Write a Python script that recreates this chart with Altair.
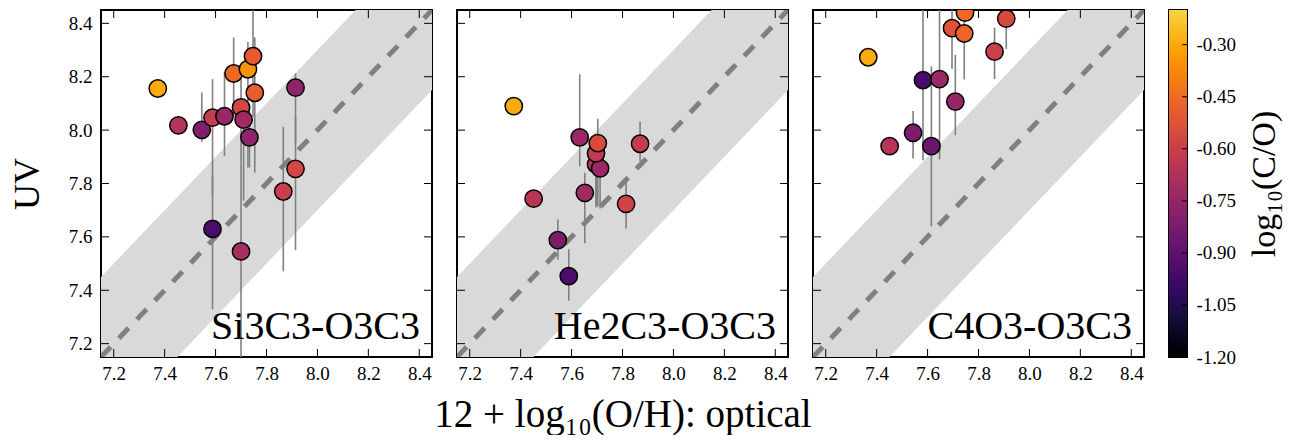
import altair as alt
import pandas as pd
import numpy as np

FONT = "Liberation Serif"

# ---------------- data ----------------
TICKS = [7.2, 7.4, 7.6, 7.8, 8.0, 8.2, 8.4]
CB_TICKS = [-1.20, -1.05, -0.90, -0.75, -0.60, -0.45, -0.30]

# Panel 1: Si3C3-O3C3
si_x = [7.373, 7.454, 7.546, 7.588, 7.635, 7.671, 7.727, 7.747, 7.754, 7.700, 7.710, 7.733, 7.914, 7.914, 7.866, 7.588, 7.700]
si_y = [8.156, 8.018, 8.001, 8.047, 8.052, 8.212, 8.228, 8.277, 8.140, 8.085, 8.039, 7.973, 8.159, 7.855, 7.770, 7.630, 7.546]
si_lo = [8.156, 8.018, 7.956, 7.750, 7.903, 8.050, 7.860, 8.050, 7.841, 7.900, 7.736, 7.860, 7.950, 7.551, 7.471, 7.329, 7.100]
si_hi = [8.156, 8.018, 8.141, 8.191, 8.218, 8.347, 8.330, 8.500, 8.347, 8.200, 8.090, 8.094, 8.212, 8.050, 8.012, 7.830, 7.900]
si_co = [-0.30, -0.66, -0.81, -0.62, -0.745, -0.46, -0.35, -0.50, -0.49, -0.57, -0.72, -0.77, -0.77, -0.57, -0.60, -0.955, -0.70]

# Panel 2: He2C3-O3C3
he_x = [7.373, 7.451, 7.546, 7.589, 7.632, 7.652, 7.696, 7.712, 7.696, 7.703, 7.814, 7.869]
he_y = [8.090, 7.743, 7.588, 7.453, 7.973, 7.765, 7.872, 7.857, 7.913, 7.951, 7.724, 7.949]
he_lo = [8.090, 7.743, 7.514, 7.361, 7.865, 7.576, 7.720, 7.706, 7.710, 7.713, 7.631, 7.883]
he_hi = [8.090, 7.743, 7.665, 7.554, 8.209, 7.840, 7.930, 7.900, 7.960, 8.043, 7.824, 8.031]
he_co = [-0.30, -0.65, -0.82, -0.95, -0.74, -0.72, -0.66, -0.74, -0.63, -0.55, -0.58, -0.62]

# Panel 3: C4O3-O3C3
c4_x = [7.367, 7.451, 7.543, 7.582, 7.615, 7.647, 7.709, 7.696, 7.744, 7.747, 7.863, 7.909]
c4_y = [8.273, 7.940, 7.990, 8.187, 7.940, 8.191, 8.107, 8.382, 8.362, 8.440, 8.294, 8.418]
c4_lo = [8.273, 7.940, 7.894, 7.887, 7.640, 7.890, 7.981, 8.230, 8.190, 8.440, 8.191, 8.304]
c4_hi = [8.273, 7.940, 8.072, 8.500, 8.239, 8.500, 8.282, 8.500, 8.500, 8.500, 8.384, 8.500]
c4_co = [-0.30, -0.66, -0.82, -0.96, -0.87, -0.74, -0.75, -0.53, -0.47, -0.46, -0.60, -0.56]

# one-to-one line and its +/- band
line_x = [7.15, 8.45]
band_half = 0.3

# --------------------------------------------------------------
W, H = 331, 347
XD = [7.15, 8.45]
YD = [7.15, 8.45]
TL = 8  # inward tick length

color_scale = alt.Scale(domain=[-1.2, -0.2],
                        scheme=alt.SchemeParams(name="inferno", extent=[0, 0.9]))


def panel(xs, ys, lo, hi, co, name, first, middle):
    df = pd.DataFrame({"x": xs, "y": ys, "lo": lo, "hi": hi, "co": co})
    line_df = pd.DataFrame({"x": line_x, "y": line_x})
    band_df = pd.DataFrame({"x": line_x,
                            "lo": [v - band_half for v in line_x],
                            "hi": [v + band_half for v in line_x]})
    tick_df = pd.DataFrame({"t": TICKS})
    lab_df = pd.DataFrame({"label": [name]})

    xscale = alt.Scale(domain=XD, nice=False, zero=False)
    yscale = alt.Scale(domain=YD, nice=False, zero=False)
    if middle:
        xaxis = alt.Axis(values=TICKS, format=".1f", ticks=False, domain=False, grid=False,
                         labelPadding=7, labelFontSize=19, labelFont=FONT, labelColor="black",
                         labelFlush=False,
                         title="12 + log₁₀(O/H): optical", titleFont=FONT, titleFontSize=39,
                         titleFontWeight="normal", titleColor="black", titlePadding=12)
    else:
        xaxis = alt.Axis(values=TICKS, format=".1f", ticks=False, domain=False, grid=False,
                         labelPadding=7, labelFontSize=19, labelFont=FONT, labelColor="black",
                         labelFlush=False, title=None)
    if first:
        yaxis = alt.Axis(values=TICKS, format=".1f", ticks=False, domain=False, grid=False,
                         labelPadding=9, labelFontSize=19, labelFont=FONT, labelColor="black",
                         labelFlush=False,
                         title="UV", titleFont=FONT, titleFontSize=36, titleFontWeight="normal",
                         titleColor="black", titlePadding=22)
    else:
        yaxis = None

    def X(f):
        return alt.X(f, scale=xscale, axis=xaxis)

    def Y(f):
        return alt.Y(f, scale=yscale, axis=yaxis)

    band = alt.Chart(band_df).mark_area(color="#d9d9d9", opacity=1, clip=True).encode(
        x=X("x:Q"), y=Y("lo:Q"), y2="hi:Q")
    diag = alt.Chart(line_df).mark_line(color="#808080", strokeWidth=5, strokeDash=[14, 12],
                                        clip=True).encode(x=X("x:Q"), y=Y("y:Q"))
    err = alt.Chart(df).mark_rule(color="#808080", strokeWidth=1.6, clip=True).encode(
        x=X("x:Q"), y=Y("lo:Q"), y2="hi:Q")
    pts = alt.Chart(df).mark_circle(size=300, opacity=1, stroke="black", strokeWidth=1.5,
                                    clip=True).encode(
        x=X("x:Q"), y=Y("y:Q"),
        color=alt.Color("co:Q", scale=color_scale, legend=None))
    label = alt.Chart(lab_df).mark_text(align="right", baseline="alphabetic", fontSize=40,
                                        font=FONT, color="black").encode(
        x=alt.value(W - 12), y=alt.value(H - 18), text="label:N")
    tb = alt.Chart(tick_df).mark_rule(color="black", strokeWidth=1).encode(
        x=X("t:Q"), y=alt.value(H), y2=alt.value(H - TL))
    tt = alt.Chart(tick_df).mark_rule(color="black", strokeWidth=1).encode(
        x=X("t:Q"), y=alt.value(0), y2=alt.value(TL))
    tl = alt.Chart(tick_df).mark_rule(color="black", strokeWidth=1).encode(
        y=Y("t:Q"), x=alt.value(0), x2=alt.value(TL))
    tr = alt.Chart(tick_df).mark_rule(color="black", strokeWidth=1).encode(
        y=Y("t:Q"), x=alt.value(W), x2=alt.value(W - TL))
    return alt.layer(band, diag, err, pts, label, tb, tt, tl, tr).properties(width=W, height=H)


p1 = panel(si_x, si_y, si_lo, si_hi, si_co, "Si3C3-O3C3", True, False)
p2 = panel(he_x, he_y, he_lo, he_hi, he_co, "He2C3-O3C3", False, True)
p3 = panel(c4_x, c4_y, c4_lo, c4_hi, c4_co, "C4O3-O3C3", False, False)

# colour bar drawn through the same colour scale
cb_step = 0.005
cb_v = np.round(np.arange(-1.2, -0.2, cb_step), 4)
cb_df = pd.DataFrame({"v": cb_v, "v2": np.minimum(cb_v + 2 * cb_step, -0.2)})
cb_scale = alt.Scale(domain=[-1.2, -0.2], nice=False, zero=False)
cb_axis = alt.Axis(values=CB_TICKS, labelExpr="'-' + format(abs(datum.value), '.2f')",
                   orient="right", ticks=False, domain=False, grid=False,
                   labelPadding=9, labelFontSize=19, labelFont=FONT, labelColor="black",
                   labelFlush=False,
                   title="log₁₀(C/O)", titleFont=FONT, titleFontSize=34,
                   titleFontWeight="normal", titleColor="black", titleAngle=270,
                   titleBaseline="top", titlePadding=12)
cb_rect = alt.Chart(cb_df).mark_rect().encode(
    y=alt.Y("v:Q", scale=cb_scale, axis=cb_axis), y2="v2:Q",
    x=alt.value(0), x2=alt.value(18),
    color=alt.Color("v:Q", scale=color_scale, legend=None))
cb_ticks = alt.Chart(pd.DataFrame({"t": CB_TICKS})).mark_rule(color="black", strokeWidth=1).encode(
    y=alt.Y("t:Q", scale=cb_scale, axis=cb_axis), x=alt.value(18), x2=alt.value(13))
cbar = alt.layer(cb_rect, cb_ticks).properties(width=18, height=H)

chart = alt.hconcat(p1, p2, p3, cbar, spacing=25, bounds="flush").properties(
    padding={"left": 0, "top": 0, "right": 0, "bottom": 0},
    background="white",
).configure(font=FONT).configure_view(stroke="black", strokeWidth=2)

chart.save("out.html", embed_options={"renderer": "svg", "actions": False})
